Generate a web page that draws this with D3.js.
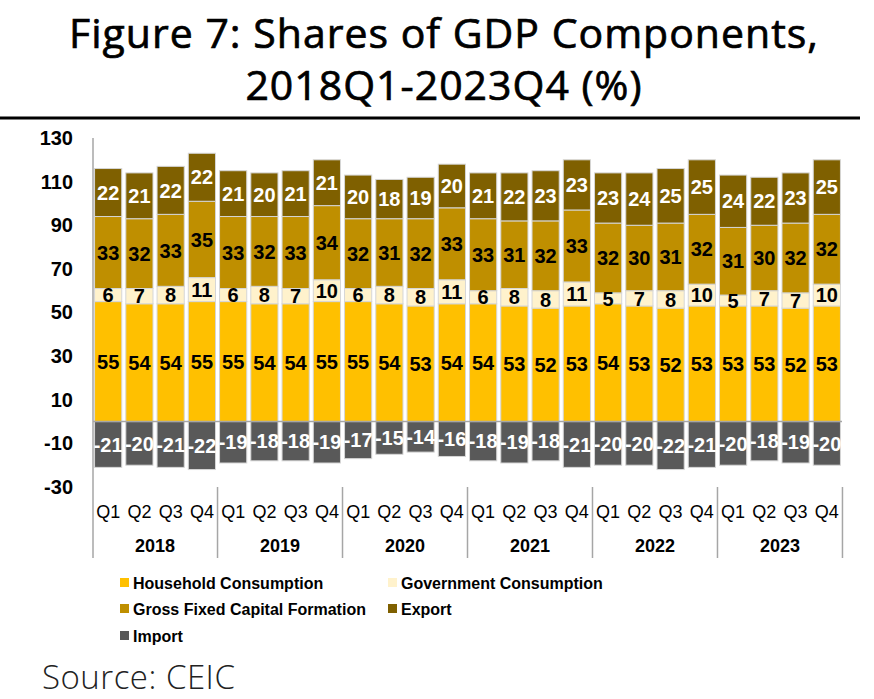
<!DOCTYPE html>
<html>
<head>
<meta charset="utf-8">
<script src="https://cdn.jsdelivr.net/npm/d3@7"></script>
<style>
  body { margin: 0; background: #fff; }
  svg text { font-family: "Liberation Sans", Arial, sans-serif; }
</style>
</head>
<body>
<div id="chart"></div>
<script>
// quarters and years
var quarters = ["Q1", "Q2", "Q3", "Q4"];
var years = ["2018", "2019", "2020", "2021", "2022", "2023"];

// series values (% of GDP), 2018Q1 .. 2023Q4
var household = [55, 54, 54, 55, 55, 54, 54, 55, 55, 54, 53, 54, 54, 53, 52, 53, 54, 53, 52, 53, 53, 53, 52, 53];
var government = [6, 7, 8, 11, 6, 8, 7, 10, 6, 8, 8, 11, 6, 8, 8, 11, 5, 7, 8, 10, 5, 7, 7, 10];
var gfcf = [33, 32, 33, 35, 33, 32, 33, 34, 32, 31, 32, 33, 33, 31, 32, 33, 32, 30, 31, 32, 31, 30, 32, 32];
var exports = [22, 21, 22, 22, 21, 20, 21, 21, 20, 18, 19, 20, 21, 22, 23, 23, 23, 24, 25, 25, 24, 22, 23, 25];
var imports = [-21, -20, -21, -22, -19, -18, -18, -19, -17, -15, -14, -16, -18, -19, -18, -21, -20, -20, -22, -21, -20, -18, -19, -20];

var yTicks = [130, 110, 90, 70, 50, 30, 10, -10, -30];

var seriesNames = ["Household Consumption", "Government Consumption", "Gross Fixed Capital Formation", "Export", "Import"];
var seriesColors = ["#ffc000", "#fff2cc", "#bf8f00", "#7f6000", "#595959"];
var labelColors = ["#000", "#000", "#000", "#fff", "#fff"];

var W = 874, H = 699;
var svg = d3.select("#chart").append("svg")
    .attr("width", W)
    .attr("height", H);

// title
var titleFont = "'Open Sans', Lato, sans-serif";
var titleLines = ["Figure 7: Shares of GDP Components,", "2018Q1-2023Q4 (%)"];
svg.append("g").attr("class", "title")
    .selectAll("text")
    .data(titleLines)
    .enter().append("text")
    .attr("x", 444)
    .attr("y", function(d, i) { return 48 + i * 52; })
    .attr("text-anchor", "middle")
    .attr("fill", "#000")
    .attr("stroke", "#000")
    .attr("stroke-width", 0.7)
    .style("font-family", titleFont)
    .style("font-size", "41px")
    .style("letter-spacing", "1px")
    .text(function(d) { return d; });
svg.append("line")
    .attr("x1", 0).attr("x2", 860)
    .attr("y1", 118).attr("y2", 118)
    .attr("stroke", "#000").attr("stroke-width", 3);

// build stacked table
var keys = ["household", "government", "gfcf", "exports"];
var cols = [household, government, gfcf, exports];
var ids = [];
years.forEach(function(y) { quarters.forEach(function(q) { ids.push(y + q); }); });

var rows = ids.map(function(id, i) {
    var r = { id: id };
    keys.forEach(function(k, j) { r[k] = cols[j][i]; });
    r.imports = imports[i];
    return r;
});

var plotLeft = 93, plotRight = 842;

var x = d3.scaleBand()
    .domain(ids)
    .range([plotLeft, plotRight])
    .paddingInner(0.13)
    .paddingOuter(0.05);

var y = d3.scaleLinear()
    .domain([-30, 130])
    .range([487, 138]);

// y axis labels
var yAxis = svg.append("g")
    .attr("transform", "translate(" + plotLeft + ",0)")
    .call(d3.axisLeft(y).tickValues(yTicks).tickSize(0).tickPadding(20)
        .tickFormat(function(d) { return String(d); }));
yAxis.select(".domain").remove();
yAxis.selectAll("text")
    .style("font-size", "20px")
    .style("font-weight", "bold")
    .style("font-family", "'Liberation Sans', Arial, sans-serif")
    .attr("fill", "#000");

var stack = d3.stack().keys(keys);
var stacked = stack(rows);

var barStroke = "#d6d6d6";

stacked.forEach(function(layer, li) {
    var g = svg.append("g").attr("class", "layer-" + keys[li]);
    g.selectAll("rect")
        .data(layer)
        .enter().append("rect")
        .attr("x", function(d) { return x(d.data.id); })
        .attr("y", function(d) { return y(d[1]); })
        .attr("width", x.bandwidth())
        .attr("height", function(d) { return y(d[0]) - y(d[1]); })
        .attr("fill", seriesColors[li])
        .attr("stroke", barStroke)
        .attr("stroke-width", 1);
});

// import bars (negative)
svg.append("g").attr("class", "layer-imports")
    .selectAll("rect")
    .data(rows)
    .enter().append("rect")
    .attr("x", function(d) { return x(d.id); })
    .attr("y", y(0))
    .attr("width", x.bandwidth())
    .attr("height", function(d) { return y(d.imports) - y(0); })
    .attr("fill", seriesColors[4])
    .attr("stroke", barStroke)
    .attr("stroke-width", 1);

// zero line
svg.append("line")
    .attr("x1", plotLeft).attr("x2", plotRight)
    .attr("y1", y(0)).attr("y2", y(0))
    .attr("stroke", "#a6a6a6").attr("stroke-width", 1.5);

// value labels
stacked.forEach(function(layer, li) {
    svg.append("g").selectAll("text")
        .data(layer)
        .enter().append("text")
        .attr("x", function(d) { return x(d.data.id) + x.bandwidth() / 2; })
        .attr("y", function(d) { return y((d[0] + d[1]) / 2); })
        .attr("dy", "0.36em")
        .attr("text-anchor", "middle")
        .attr("fill", labelColors[li])
        .style("font-size", "20px")
        .style("font-weight", "bold")
        .text(function(d) { return d[1] - d[0]; });
});
svg.append("g").selectAll("text")
    .data(rows)
    .enter().append("text")
    .attr("x", function(d) { return x(d.id) + x.bandwidth() / 2; })
    .attr("y", function(d) { return y(d.imports / 2); })
    .attr("dy", "0.36em")
    .attr("text-anchor", "middle")
    .attr("fill", labelColors[4])
    .style("font-size", "20px")
    .style("font-weight", "bold")
    .text(function(d) { return d.imports; });

// left axis line
svg.append("line")
    .attr("x1", plotLeft).attr("x2", plotLeft)
    .attr("y1", y(130)).attr("y2", 558)
    .attr("stroke", "#a6a6a6").attr("stroke-width", 1.5);

// category axis: quarters and years
var step = x.step();
svg.append("g").selectAll("text")
    .data(rows)
    .enter().append("text")
    .attr("x", function(d) { return x(d.id) + x.bandwidth() / 2; })
    .attr("y", 512)
    .attr("dy", "0.36em")
    .attr("text-anchor", "middle")
    .style("font-size", "18px")
    .text(function(d) { return d.id.slice(4); });

var yearGroups = svg.append("g");
years.forEach(function(yr, i) {
    var x0 = x(yr + "Q1") - step * x.paddingInner() / 2;
    var x1 = x(yr + "Q4") + x.bandwidth() + step * x.paddingInner() / 2;
    yearGroups.append("text")
        .attr("x", (x0 + x1) / 2)
        .attr("y", 546)
        .attr("dy", "0.36em")
        .attr("text-anchor", "middle")
        .style("font-size", "18px")
        .style("font-weight", "bold")
        .text(yr);
    yearGroups.append("line")
        .attr("x1", x1).attr("x2", x1)
        .attr("y1", y(-30)).attr("y2", 558)
        .attr("stroke", "#a6a6a6").attr("stroke-width", 1.5);
});

// legend
var legendPos = [[120, 583], [388, 583], [120, 609], [388, 609], [120, 636]];
var legend = svg.append("g").attr("class", "legend");
seriesNames.forEach(function(name, i) {
    var p = legendPos[i];
    legend.append("rect")
        .attr("x", p[0]).attr("y", p[1] - 5)
        .attr("width", 9).attr("height", 9)
        .attr("fill", seriesColors[i]);
    legend.append("text")
        .attr("x", p[0] + 13).attr("y", p[1])
        .attr("dy", "0.36em")
        .style("font-size", "16px")
        .style("font-weight", "bold")
        .text(name);
});

// source
svg.append("text")
    .attr("x", 42).attr("y", 689)
    .style("font-family", "'Open Sans', Lato, sans-serif")
    .style("font-size", "33px")
    .style("font-weight", 300)
    .style("letter-spacing", "0.5px")
    .attr("fill", "#222")
    .text("Source: CEIC");
</script>
</body>
</html>
